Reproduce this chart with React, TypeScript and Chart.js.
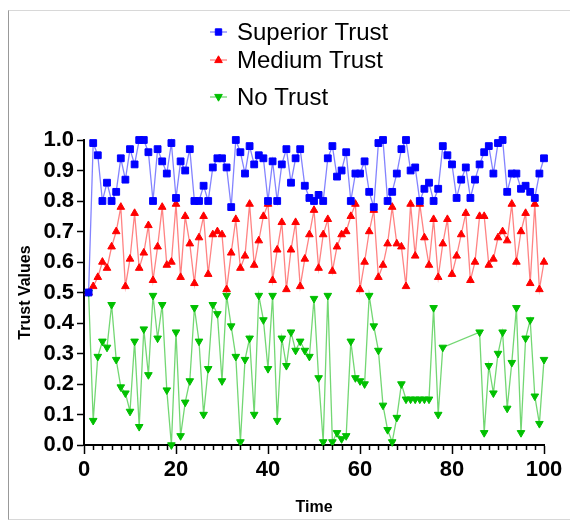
import React, { useEffect, useRef } from "react";
import { Chart, registerables } from "chart.js";

Chart.register(...registerables);

const FONT = "'Liberation Sans', Arial, Helvetica, sans-serif";

const seriesNames = ["Superior Trust", "Medium Trust", "No Trust"];

const timePoints = [
  1, 2, 3, 4, 5, 6, 7, 8, 9, 10,
  11, 12, 13, 14, 15, 16, 17, 18, 19, 20,
  21, 22, 23, 24, 25, 26, 27, 28, 29, 30,
  31, 32, 33, 34, 35, 36, 37, 38, 39, 40,
  41, 42, 43, 44, 45, 46, 47, 48, 49, 50,
  51, 52, 53, 54, 55, 56, 57, 58, 59, 60,
  61, 62, 63, 64, 65, 66, 67, 68, 69, 70,
  71, 72, 73, 74, 75, 76, 77, 78, 79, 80,
  81, 82, 83, 84, 85, 86, 87, 88, 89, 90,
  91, 92, 93, 94, 95, 96, 97, 98, 99, 100,
];

const superiorTrust = [
  0.50, 0.99, 0.95, 0.80, 0.86, 0.80, 0.83, 0.94, 0.87, 0.97,
  0.92, 1.00, 1.00, 0.96, 0.80, 0.97, 0.93, 0.89, 0.99, 0.81,
  0.93, 0.90, 0.97, 0.80, 0.80, 0.85, 0.80, 0.91, 0.94, 0.94,
  0.91, 0.78, 1.00, 0.96, 0.89, 0.98, 0.92, 0.95, 0.94, 0.80,
  0.93, 0.80, 0.92, 0.97, 0.86, 0.94, 0.97, 0.85, 0.81, 0.80,
  0.82, 0.80, 0.94, 0.98, 0.88, 0.90, 0.96, 0.80, 0.89, 0.89,
  0.93, 0.83, 0.78, 0.99, 1.00, 0.80, 0.83, 0.89, 0.97, 1.00,
  0.90, 0.91, 0.80, 0.84, 0.86, 0.80, 0.84, 0.98, 0.95, 0.92,
  0.81, 0.87, 0.91, 0.81, 0.87, 0.92, 0.96, 0.98, 0.89, 0.99,
  1.00, 0.83, 0.89, 0.89, 0.84, 0.85, 0.83, 0.81, 0.89, 0.94,
];

const mediumTrust = [
  0.50, 0.52, 0.55, 0.60, 0.58, 0.65, 0.70, 0.78, 0.52, 0.61,
  0.76, 0.58, 0.63, 0.72, 0.54, 0.65, 0.78, 0.59, 0.60, 0.79,
  0.55, 0.75, 0.66, 0.53, 0.68, 0.75, 0.56, 0.69, 0.70, 0.69,
  0.51, 0.63, 0.74, 0.58, 0.62, 0.79, 0.59, 0.67, 0.75, 0.79,
  0.54, 0.64, 0.73, 0.51, 0.64, 0.73, 0.52, 0.61, 0.69, 0.77,
  0.58, 0.69, 0.74, 0.57, 0.65, 0.69, 0.70, 0.75, 0.79, 0.51,
  0.60, 0.70, 0.77, 0.55, 0.59, 0.66, 0.78, 0.66, 0.65, 0.52,
  0.79, 0.62, 0.79, 0.68, 0.59, 0.74, 0.55, 0.66, 0.74, 0.56,
  0.62, 0.69, 0.76, 0.54, 0.60, 0.75, 0.75, 0.59, 0.61, 0.68,
  0.70, 0.67, 0.79, 0.60, 0.70, 0.76, 0.53, 0.79, 0.51, 0.60,
];

const noTrust = [
  0.50, 0.08, 0.29, 0.34, 0.32, 0.46, 0.28, 0.19, 0.17, 0.11,
  0.34, 0.06, 0.38, 0.23, 0.49, 0.35, 0.46, 0.18, 0.00, 0.37,
  0.03, 0.14, 0.21, 0.45, 0.34, 0.10, 0.25, 0.46, 0.43, 0.21,
  0.49, 0.39, 0.29, 0.01, 0.28, 0.35, 0.10, 0.49, 0.41, 0.25,
  0.49, 0.08, 0.35, 0.26, 0.37, 0.31, 0.34, 0.31, 0.29, 0.48,
  0.22, 0.01, 0.49, 0.01, 0.04, 0.02, 0.03, 0.34, 0.22, 0.21,
  0.20, 0.49, 0.39, 0.31, 0.13, 0.05, 0.01, 0.09, 0.20, 0.15,
  0.15, 0.15, 0.15, 0.15, 0.15, 0.45, 0.10, 0.32, null, null,
  null, null, null, null, null, 0.37, 0.04, 0.26, 0.17, 0.30,
  0.37, 0.12, 0.27, 0.45, 0.04, 0.35, 0.41, 0.16, 0.07, 0.28,
];

const xMin = 0;
const xMax = 100;
const xMajorStep = 20;
const xMinorStep = 2;
const yMin = 0;
const yMax = 1;
const yStep = 0.1;

const markerColors = ["#0000ff", "#ff0000", "#00c000"];
const lineColors = ["rgba(100,100,255,0.8)", "rgba(255,100,100,0.8)", "rgba(80,205,80,0.8)"];

function toXY(values: (number | null)[]) {
  return values.map((v, i) => ({ x: timePoints[i], y: v }));
}

const minorTickPlugin = {
  id: "minorTicks",
  afterDraw(chart: any) {
    const xs = chart.scales.x;
    const ctx = chart.ctx;
    ctx.save();
    ctx.strokeStyle = "#000";
    ctx.lineWidth = 1.5;
    ctx.beginPath();
    for (let v = xMin + xMinorStep; v < xMax; v += xMinorStep) {
      if (v % xMajorStep === 0) continue;
      const px = Math.round(xs.getPixelForValue(v)) + 0.5;
      ctx.moveTo(px, xs.top);
      ctx.lineTo(px, xs.top + 5);
    }
    ctx.stroke();
    ctx.restore();
  },
};

function drawMarker(ctx: CanvasRenderingContext2D, kind: number, x: number, y: number, color: string) {
  ctx.fillStyle = color;
  ctx.strokeStyle = color;
  ctx.lineWidth = 1;
  ctx.beginPath();
  if (kind === 0) {
    ctx.rect(x - 3.2, y - 3.2, 6.4, 6.4);
  } else if (kind === 1) {
    ctx.moveTo(x, y - 4.2);
    ctx.lineTo(x + 3.8, y + 2.6);
    ctx.lineTo(x - 3.8, y + 2.6);
    ctx.closePath();
  } else {
    ctx.moveTo(x, y + 4.2);
    ctx.lineTo(x + 3.8, y - 2.6);
    ctx.lineTo(x - 3.8, y - 2.6);
    ctx.closePath();
  }
  ctx.fill();
  ctx.stroke();
}

const legendRowsY = [32, 60, 97];

const legendPlugin = {
  id: "customLegend",
  afterDraw(chart: any) {
    const ctx = chart.ctx as CanvasRenderingContext2D;
    ctx.save();
    chart.data.datasets.forEach((ds: any, i: number) => {
      const y = legendRowsY[i];
      ctx.strokeStyle = ds.borderColor;
      ctx.lineWidth = 1.3;
      ctx.beginPath();
      ctx.moveTo(210, y);
      ctx.lineTo(227, y);
      ctx.stroke();
      drawMarker(ctx, i, 218.5, y, ds.pointBackgroundColor);
      ctx.fillStyle = "#000";
      ctx.font = `24px ${FONT}`;
      ctx.textBaseline = "middle";
      ctx.textAlign = "left";
      ctx.fillText(ds.label, 237, y + 1);
    });
    ctx.restore();
  },
};

export default function App() {
  const ref = useRef<HTMLCanvasElement | null>(null);

  useEffect(() => {
    if (!ref.current) return;
    const seriesValues = [superiorTrust, mediumTrust, noTrust];
    const chart = new Chart(ref.current, {
      type: "line",
      data: {
        datasets: seriesValues.map((vals, i) => ({
          label: seriesNames[i],
          data: toXY(vals),
          borderColor: lineColors[i],
          borderWidth: 1.3,
          pointBackgroundColor: markerColors[i],
          pointBorderColor: markerColors[i],
          pointBorderWidth: 1,
          pointStyle: i === 0 ? "rect" : "triangle",
          pointRotation: i === 2 ? 180 : 0,
          pointRadius: i === 0 ? 4.8 : 4.4,
          tension: 0,
          spanGaps: true,
          clip: false,
          fill: false,
        })) as any,
      },
      options: {
        animation: false,
        responsive: false,
        devicePixelRatio: 1,
        events: [],
        layout: { padding: { top: 140, left: 0, right: 26, bottom: 0 } },
        plugins: {
          legend: { display: false },
          tooltip: { enabled: false },
        },
        scales: {
          x: {
            type: "linear",
            min: xMin,
            max: xMax,
            afterFit: (s: any) => {
              s.height = 76;
            },
            ticks: {
              stepSize: xMajorStep,
              color: "#000",
              font: { family: FONT, size: 22, weight: "bold" },
              padding: 3,
              maxRotation: 0,
              autoSkip: false,
            },
            grid: {
              drawOnChartArea: false,
              drawTicks: true,
              tickLength: 9,
              tickWidth: 1.5,
              tickColor: "#000",
            },
            border: { display: true, color: "#000", width: 2 },
            title: {
              display: true,
              text: "Time",
              color: "#000",
              font: { family: FONT, size: 16, weight: "bold" },
              padding: { top: 0, bottom: 4 },
            },
          },
          y: {
            type: "linear",
            min: yMin,
            max: yMax,
            afterFit: (s: any) => {
              s.width = 84;
            },
            ticks: {
              stepSize: yStep,
              color: "#000",
              font: { family: FONT, size: 22, weight: "bold" },
              padding: 3,
              callback: (v: any) => Number(v).toFixed(1),
            },
            grid: {
              drawOnChartArea: false,
              drawTicks: true,
              tickLength: 7,
              tickWidth: 1.5,
              tickColor: "#000",
            },
            border: { display: true, color: "#000", width: 2 },
            title: {
              display: true,
              text: "Trust Values",
              color: "#000",
              font: { family: FONT, size: 16, weight: "bold" },
              padding: { top: 16, bottom: 0 },
            },
          },
        },
      },
      plugins: [minorTickPlugin, legendPlugin],
    });
    return () => chart.destroy();
  }, []);

  return (
    <div style={{ position: "fixed", left: 0, top: 0, width: 570, height: 521, background: "#fff", overflow: "hidden" }}>
      <div
        style={{
          position: "absolute",
          left: 8,
          top: 10,
          width: 570,
          height: 508,
          borderLeft: "1px solid #999",
          borderTop: "1px solid #d8d8d8",
          borderBottom: "1px solid #d8d8d8",
        }}
      />
      <canvas ref={ref} width={570} height={521} style={{ position: "absolute", left: 0, top: 0 }} />
    </div>
  );
}
